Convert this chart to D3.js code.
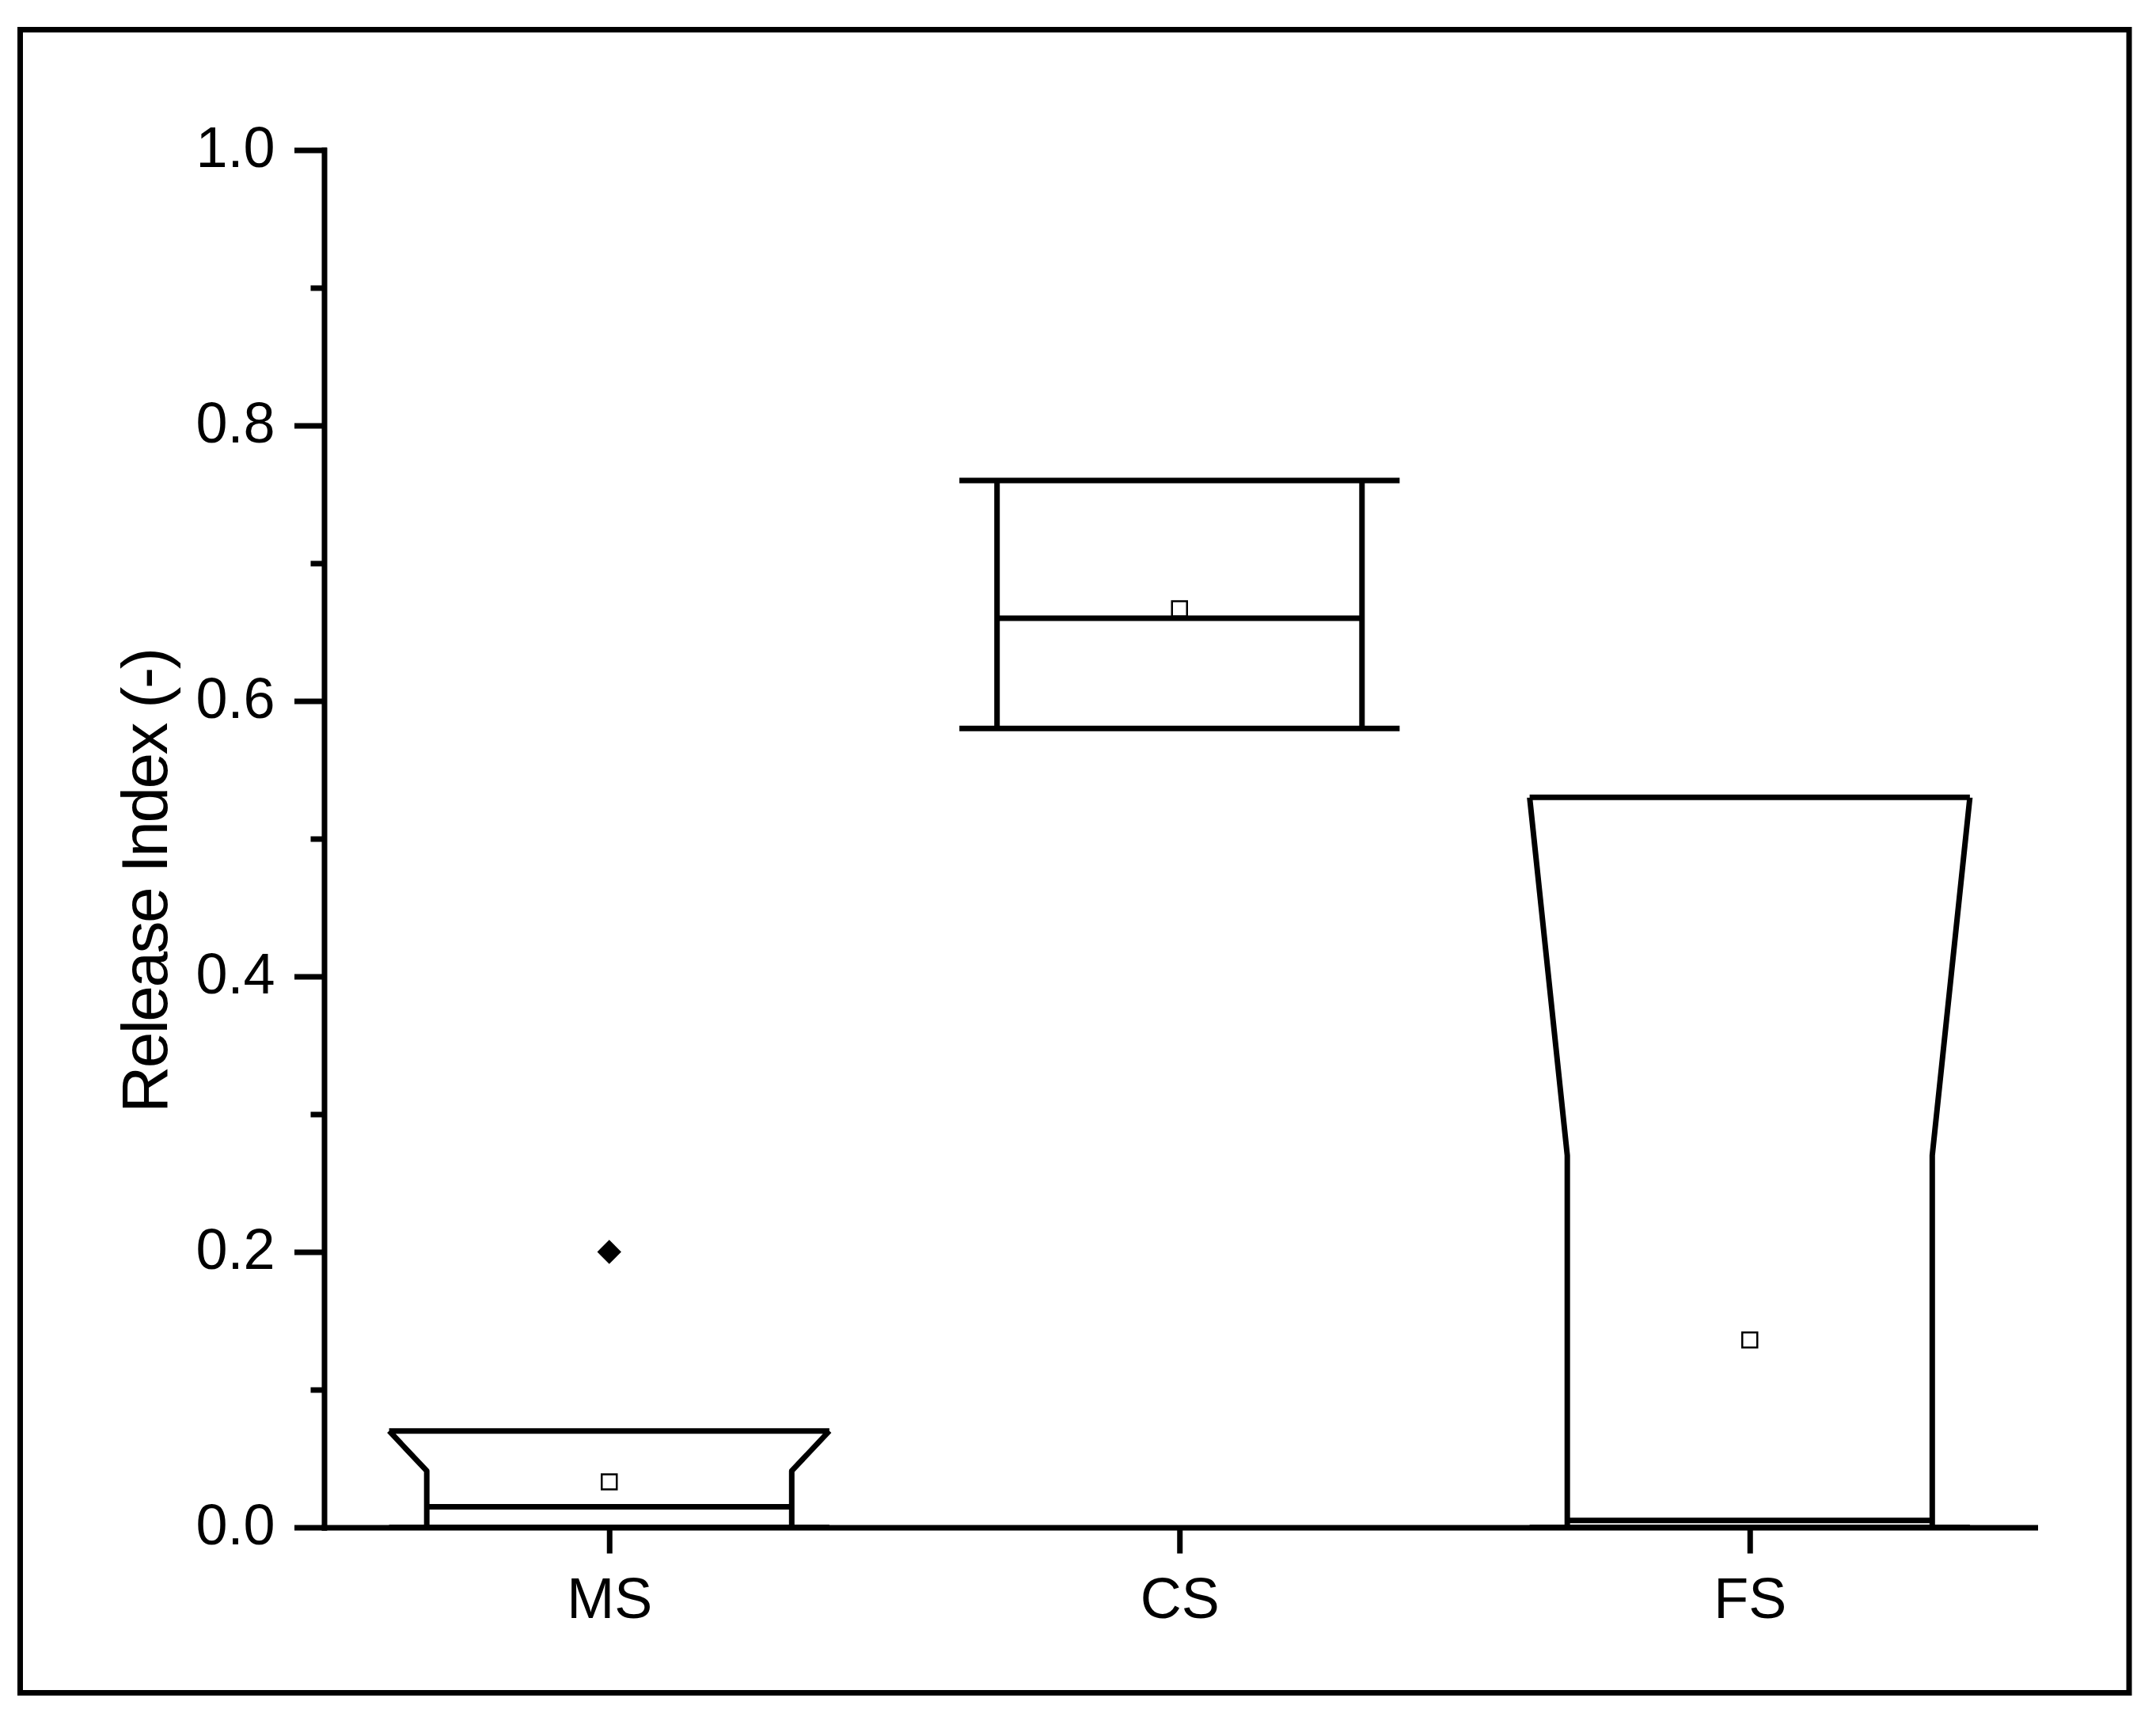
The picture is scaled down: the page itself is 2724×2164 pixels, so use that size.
<!DOCTYPE html>
<html>
<head>
<meta charset="utf-8">
<script src="https://cdn.jsdelivr.net/npm/d3@7"></script>
<style>
  html, body { margin: 0; padding: 0; background: #fff; }
  svg { display: block; }
  text { font-family: "Liberation Sans", Arial, sans-serif; fill: #000; }
</style>
</head>
<body>
<script>
// ---- data ----
const categories = ["MS", "CS", "FS"];
const q1Values = [0.0, 0.58, 0.0];
const q3Values = [0.07, 0.76, 0.53];
const medianValues = [0.015, 0.66, 0.005];
const notchLow = [-0.011, 0.55, -0.26];
const notchHigh = [0.041, 0.78, 0.27];
const meanValues = [0.033, 0.667, 0.136];
const outlierCats = ["MS"];
const outlierValues = [0.2];
const yMajorTicks = [0.0, 0.2, 0.4, 0.6, 0.8, 1.0];
const yMinorTicks = [0.1, 0.3, 0.5, 0.7, 0.9];
const yTitle = "Release Index (-)";

// ---- layout ----
const W = 2724, H = 2164;
const svg = d3.select("body").append("svg").attr("width", W).attr("height", H);
svg.append("rect").attr("width", W).attr("height", H).attr("fill", "#fff");

// outer frame
svg.append("rect")
  .attr("x", 25.5).attr("y", 37.5)
  .attr("width", 2690 - 25.5).attr("height", 2138.5 - 37.5)
  .attr("fill", "none").attr("stroke", "#000").attr("stroke-width", 7);

const x = d3.scaleLinear().domain([0.5, 3.5]).range([409.5, 2571]);
const y = d3.scaleLinear().domain([0, 1]).range([1929.5, 189.5]);

const SW = 7;
const wideHalf = 0.386, narrowHalf = 0.32; // in category units

// ---- boxes ----
const gBoxes = svg.append("g");
categories.forEach((c, i) => {
  const cx = i + 1;
  const xl = x(cx - wideHalf), xr = x(cx + wideHalf);
  const nl = x(cx - narrowHalf), nr = x(cx + narrowHalf);
  const q1 = q1Values[i], q3 = q3Values[i];
  const nHi = Math.min(notchHigh[i], q3), nLo = Math.max(notchLow[i], q1);
  const p = d3.path();
  p.moveTo(xl, y(q3)); p.lineTo(xr, y(q3));
  p.moveTo(xl, y(q1)); p.lineTo(xr, y(q1));
  [[xl, nl], [xr, nr]].forEach(([xw, xn]) => {
    if (notchHigh[i] < q3) { p.moveTo(xw, y(q3)); p.lineTo(xn, y(nHi)); }
    else { p.moveTo(xn, y(q3)); }
    p.lineTo(xn, y(nLo));
    if (notchLow[i] > q1) { p.lineTo(xw, y(q1)); }
  });
  p.moveTo(nl, y(medianValues[i])); p.lineTo(nr, y(medianValues[i]));
  gBoxes.append("path").attr("d", p.toString())
    .attr("fill", "none").attr("stroke", "#000").attr("stroke-width", SW)
    .attr("stroke-linejoin", "round");
  gBoxes.append("path")
    .attr("d", d3.symbol(d3.symbolSquare, 19 * 19)())
    .attr("transform", `translate(${x(cx)},${y(meanValues[i])})`)
    .attr("fill", "#fff").attr("stroke", "#000").attr("stroke-width", 2.5);
});

// outliers
outlierCats.forEach((c, k) => {
  const cx = categories.indexOf(c) + 1;
  gBoxes.append("path")
    .attr("d", d3.symbol(d3.symbolSquare, 21.5 * 21.5)())
    .attr("transform", `translate(${x(cx)},${y(outlierValues[k])}) rotate(45)`)
    .attr("fill", "#000");
});

// ---- axes ----
const yAxis = d3.axisLeft(y).tickValues(yMajorTicks).tickFormat(d3.format(".1f"))
  .tickSize(34).tickSizeOuter(0).tickPadding(28);
const gy = svg.append("g").attr("transform", `translate(${x.range()[0]},0)`).call(yAxis);
gy.select(".domain").attr("stroke-width", SW).attr("stroke-linecap", "square");
gy.selectAll(".tick line").attr("stroke-width", SW).attr("stroke-linecap", "square");
gy.selectAll(".tick text").attr("font-size", 72).attr("font-family", "Liberation Sans, Arial, sans-serif").attr("dy", "0.29em");

const yMinor = d3.axisLeft(y).tickValues(yMinorTicks).tickFormat("").tickSize(17).tickSizeOuter(0);
const gym = svg.append("g").attr("transform", `translate(${x.range()[0]},0)`).call(yMinor);
gym.select(".domain").remove();
gym.selectAll(".tick line").attr("stroke-width", SW);

const xAxis = d3.axisBottom(x).tickValues([1, 2, 3]).tickFormat(d => categories[d - 1])
  .tickSize(33).tickSizeOuter(0).tickPadding(30);
const gx = svg.append("g").attr("transform", `translate(0,${y(0)})`).call(xAxis);
gx.select(".domain").attr("stroke-width", SW).attr("stroke-linecap", "square");
gx.selectAll(".tick line").attr("stroke-width", SW);
gx.selectAll(".tick text").attr("font-size", 72).attr("font-family", "Liberation Sans, Arial, sans-serif");

// y title
svg.append("text")
  .attr("transform", `translate(211,1112) rotate(-90)`)
  .attr("text-anchor", "middle")
  .attr("font-size", 82)
  .attr("textLength", 588)
  .attr("lengthAdjust", "spacing")
  .text(yTitle);
</script>
</body>
</html>
